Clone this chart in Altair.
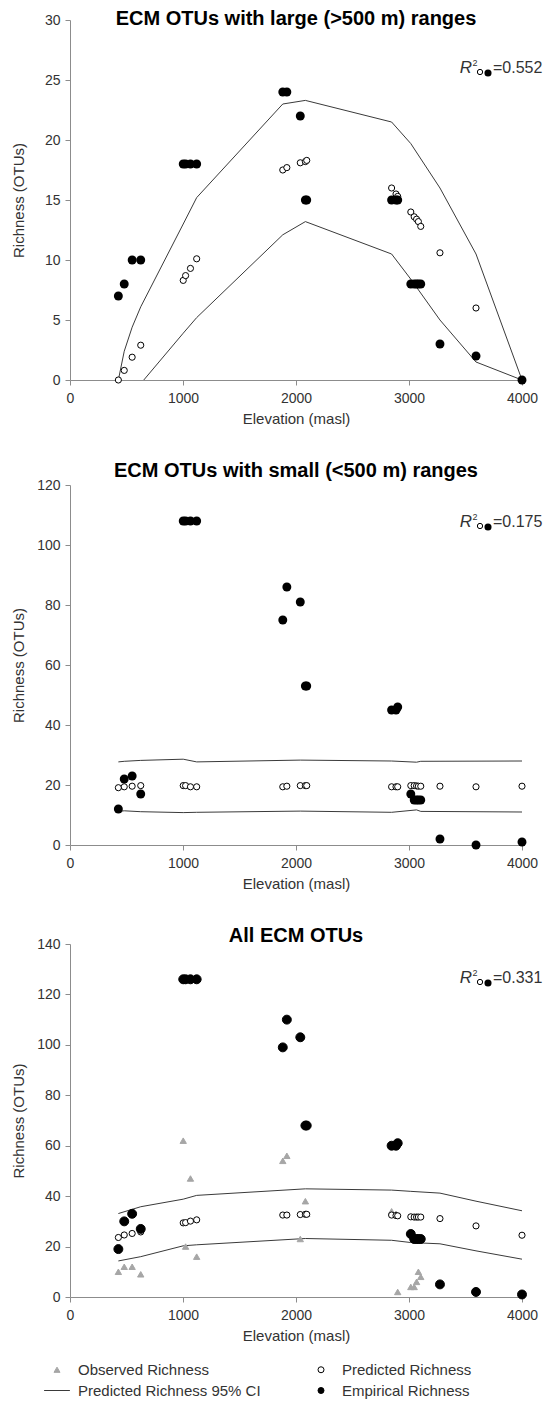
import altair as alt
import pandas as pd

FONT = "Liberation Sans"

# sampling sites (elevation, masl)
elev = [428, 480, 550, 626, 1002, 1023, 1066, 1121, 1883, 1919, 2038, 2083, 2095,
        2846, 2885, 2900, 3016, 3046, 3067, 3083, 3104, 3274, 3593, 4000]

# Panel 1: large ranges
large_pred = [0, 0.8, 1.9, 2.9, 8.3, 8.7, 9.3, 10.1, 17.5, 17.7, 18.1, 18.2, 18.3,
              16.0, 15.5, 15.3, 14.0, 13.6, 13.4, 13.2, 12.8, 10.6, 6.0, 0]
large_emp = [7, 8, 10, 10, 18, 18, 18, 18, 24, 24, 22, 15, 15,
             15, 15, 15, 8, 8, 8, 8, 8, 3, 2, 0]
ci1_elev = [428, 480, 550, 626, 1002, 1121, 1883, 2083, 2846, 3016, 3274, 3593, 4000]
ci1_upper = [0, 2.4, 4.4, 6.1, 13.0, 15.2, 23.0, 23.3, 21.5, 19.7, 16.0, 10.5, 0]
ci1_lower = [-2.5, -1.9, -1.15, -0.3, 3.9, 5.2, 12.1, 13.2, 10.5, 8.4, 5.0, 1.5, 0]

# Panel 2: small ranges
small_pred = [19.1, 19.4, 19.6, 19.8, 19.8, 19.8, 19.4, 19.4, 19.4, 19.6, 19.8, 19.8, 19.8,
              19.4, 19.4, 19.4, 19.8, 19.8, 19.7, 19.6, 19.6, 19.6, 19.4, 19.6]
small_emp = [12, 22, 23, 17, 108, 108, 108, 108, 75, 86, 81, 53, 53,
             45, 45, 46, 17, 15, 15, 15, 15, 2, 0, 1]
ci2_elev = [428, 480, 626, 1002, 1121, 2038, 2846, 3067, 3104, 4000]
ci2_upper = [27.7, 27.9, 28.2, 28.6, 27.7, 28.3, 28.0, 27.6, 27.9, 28.0]
ci2_lower = [11.2, 11.4, 11.1, 10.8, 10.9, 11.3, 10.9, 11.7, 11.2, 11.0]

# Panel 3: all OTUs
all_pred = [23.6, 24.6, 25.2, 25.8, 29.4, 29.5, 30.1, 30.6, 32.5, 32.5, 32.7, 32.8, 32.8,
            32.5, 32.3, 32.2, 31.8, 31.7, 31.7, 31.7, 31.7, 31.1, 28.2, 24.5]
all_emp = [19, 30, 33, 27, 126, 126, 126, 126, 99, 110, 103, 68, 68,
           60, 60, 61, 25, 23, 23, 23, 23, 5, 2, 1]
all_obs = [10, 12, 12, 9, 62, 20, 47, 16, 54, 56, 23, 38, 33,
           34, 33, 2, 4, 4, 6, 10, 8, 5, 2, 1]
ci3_elev = [428, 626, 1002, 1121, 2083, 2846, 3016, 3274, 3593, 4000]
ci3_upper = [33.1, 35.8, 38.8, 40.3, 42.9, 42.4, 41.9, 41.2, 38.0, 34.2]
ci3_lower = [14.3, 16.0, 20.3, 20.7, 23.2, 22.5, 21.6, 21.1, 18.3, 15.0]

titles = ["ECM OTUs with large (>500 m) ranges",
          "ECM OTUs with small (<500 m) ranges",
          "All ECM OTUs"]
r2_labels = ["=0.552", "=0.175", "=0.331"]
series = ["Observed Richness", "Predicted Richness",
          "Predicted Richness 95% CI", "Empirical Richness"]

W = 452
AXIS_GREY = "#8c8c8c"
TXT = "#333333"


def x_enc():
    return alt.X("Elevation:Q",
                 scale=alt.Scale(domain=[0, 4000], nice=False),
                 axis=alt.Axis(values=[0, 1000, 2000, 3000, 4000], format="d", grid=False,
                               tickSize=5, labelPadding=6, labelFontSize=14,
                               labelFont=FONT, labelColor=TXT, labelFlush=False,
                               title="Elevation (masl)", titleFontSize=15,
                               titleFont=FONT, titleFontWeight="normal", titleColor=TXT,
                               titleY=38, titleBaseline="middle",
                               domainColor=AXIS_GREY, tickColor=AXIS_GREY))


def y_enc(field, ymax, step):
    return alt.Y(field + ":Q",
                 scale=alt.Scale(domain=[0, ymax], nice=False),
                 axis=alt.Axis(values=list(range(0, ymax + 1, step)), grid=False,
                               tickSize=5, labelPadding=5, labelFontSize=14,
                               labelFont=FONT, labelColor=TXT,
                               title="Richness (OTUs)", titleFontSize=15,
                               titleFont=FONT, titleFontWeight="normal", titleColor=TXT,
                               titleX=-51.5, titleBaseline="middle",
                               domainColor=AXIS_GREY, tickColor=AXIS_GREY))


def text_layer(s, x, y, **kw):
    return alt.Chart(pd.DataFrame({"t": [s]})).mark_text(font=FONT, **kw).encode(
        text="t:N", x=alt.value(x), y=alt.value(y))


def dot_layer(x, y, **kw):
    return alt.Chart(pd.DataFrame({"d": [0]})).mark_point(shape="circle", opacity=1, **kw).encode(
        x=alt.value(x), y=alt.value(y))


def r2_layers(label, yr):
    return [
        text_layer("R", W - 56, yr, fontSize=17, fontStyle="italic", baseline="middle",
                   align="center", color=TXT),
        text_layer("2", W - 47, yr - 5, fontSize=9, baseline="middle", align="center", color=TXT),
        dot_layer(W - 42, yr + 4, size=28, filled=False, stroke="black", strokeWidth=1, fill="white"),
        dot_layer(W - 34, yr + 5, size=50, filled=True, color="black"),
        text_layer(label, W - 29, yr, fontSize=16, baseline="middle", align="left", color=TXT),
    ]


def ci_frame(e, up, lo):
    return pd.DataFrame({"Elevation": e + e, "Richness": up + lo,
                         "bound": ["upper"] * len(e) + ["lower"] * len(e)})


def panel(idx, pred, emp, ci, ymax, step, H, title_y, r2_y, obs=None):
    pts = pd.DataFrame({"Elevation": elev, "Predicted": pred, "Empirical": emp})
    ci_df = ci_frame(*ci)
    x = x_enc()
    lines = alt.Chart(ci_df).mark_line(color="#3a3a3a", strokeWidth=1, clip=True).encode(
        x=x, y=y_enc("Richness", ymax, step), detail="bound:N")
    layers = [lines]
    if obs is None:
        pred_l = alt.Chart(pts).mark_point(shape="circle", filled=False, fill="white",
                                           stroke="black", strokeWidth=1, size=38,
                                           opacity=1).encode(
            x=x, y=y_enc("Predicted", ymax, step))
        emp_l = alt.Chart(pts).mark_point(shape="circle", filled=True, color="black",
                                          size=80, opacity=1).encode(
            x=x, y=y_enc("Empirical", ymax, step))
        layers += [pred_l, emp_l]
    else:
        long = pd.DataFrame({
            "Elevation": elev * 3,
            "Richness": obs + pred + emp,
            "series": ([series[0]] * len(elev) + [series[1]] * len(elev)
                       + [series[3]] * len(elev)),
        })
        leg = alt.Legend(title=None, orient="none", legendX=-20.5, legendY=418, columns=2,
                         direction="horizontal",
                         symbolSize=36, symbolStrokeWidth=1, labelFontSize=15,
                         labelFont=FONT, labelColor=TXT, labelOffset=13.5, labelLimit=400,
                         columnPadding=52, rowPadding=5, padding=0)
        shape = alt.Shape("series:N", legend=leg,
                          scale=alt.Scale(domain=series,
                                          range=["triangle-up", "circle", "M-4.3,0L4.3,0", "circle"]))
        fill = alt.Fill("series:N", legend=leg,
                        scale=alt.Scale(domain=series,
                                        range=["#a6a6a6", "white", "transparent", "black"]))
        stroke = alt.Stroke("series:N", legend=leg,
                            scale=alt.Scale(domain=series,
                                            range=["#a6a6a6", "black", "#3a3a3a", "black"]))
        sizes = {series[0]: 40, series[1]: 38, series[3]: 80}
        for s in [series[0], series[1], series[3]]:
            layers.append(
                alt.Chart(long).transform_filter(alt.datum.series == s).mark_point(
                    size=sizes[s], strokeWidth=1, opacity=1).encode(
                    x=x, y=y_enc("Richness", ymax, step),
                    shape=shape, fill=fill, stroke=stroke))
    layers += r2_layers(r2_labels[idx], r2_y)
    layers.append(text_layer(titles[idx], W / 2, title_y, fontSize=20, fontWeight="bold",
                             baseline="middle", align="center", color="black"))
    return alt.layer(*layers).properties(width=W, height=H)


p1 = panel(0, large_pred, large_emp, (ci1_elev, ci1_upper, ci1_lower), 30, 5, 360, -1, 48)
p2 = panel(1, small_pred, small_emp, (ci2_elev, ci2_upper, ci2_lower), 120, 20, 360, -14, 37)
p3 = panel(2, all_pred, all_emp, (ci3_elev, ci3_upper, ci3_lower), 140, 20, 353, -8, 34,
           obs=all_obs)

chart = alt.vconcat(p1, p2, p3, spacing=35).properties(
    padding={"left": 11, "top": 9, "right": 5, "bottom": 5},
    background="white",
).resolve_legend(shape="independent", fill="independent", stroke="independent"
).configure_view(strokeWidth=0)

chart.save("out.html", embed_options={"renderer": "svg", "actions": False})
